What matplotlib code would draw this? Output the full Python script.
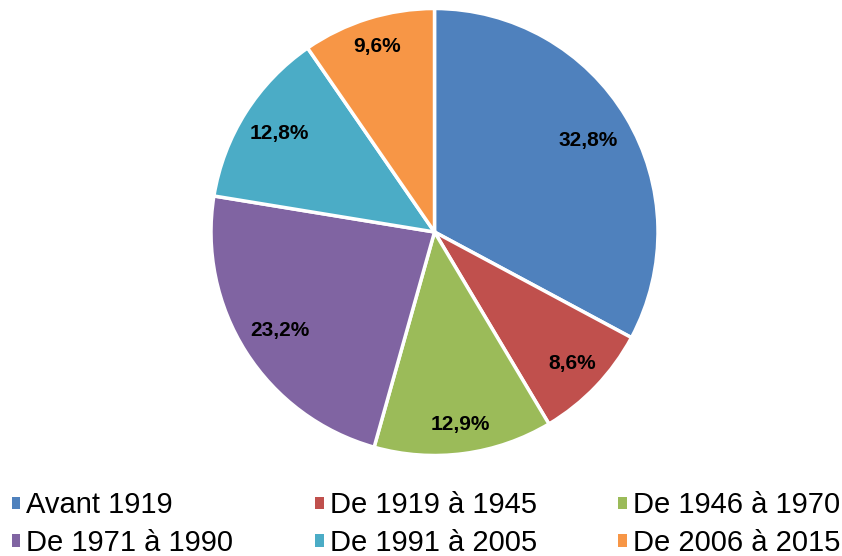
import numpy as np
import matplotlib.pyplot as plt

plt.rcParams['font.family'] = ['Liberation Sans', 'DejaVu Sans']

# Data
categories = ['Avant 1919', 'De 1919 à 1945', 'De 1946 à 1970',
              'De 1971 à 1990', 'De 1991 à 2005', 'De 2006 à 2015']
shares = [32.8, 8.6, 12.9, 23.2, 12.8, 9.6]
colors = ['#4F81BD', '#C0504D', '#9BBB59', '#8064A2', '#4BACC6', '#F79646']
# radial position of each percentage label (fraction of radius)
label_dist = [0.80, 0.85, 0.87, 0.82, 0.82, 0.87]

fig = plt.figure(figsize=(8.42, 5.56), dpi=100)
W, H = 842, 556
cx, cy, r = 434.5, 232, 223.5
ax = fig.add_axes([(cx - r) / W, (H - cy - r) / H, 2 * r / W, 2 * r / H])

wedges, texts, autotexts = ax.pie(
    shares, colors=colors, startangle=90, counterclock=False,
    radius=1, autopct=lambda p: '{:.1f}%'.format(p * sum(shares) / 100).replace('.', ','),
    wedgeprops=dict(edgecolor='white', linewidth=2.5),
    textprops=dict(fontsize=15, fontweight='bold', color='black'))
ax.set_xlim(-1, 1)
ax.set_ylim(-1, 1)
ax.set_aspect('equal')

# move labels to their own radial distance
for w, t, d in zip(wedges, autotexts, label_dist):
    ang = np.deg2rad((w.theta1 + w.theta2) / 2)
    t.set_position((d * np.cos(ang), d * np.sin(ang)))

# Legend below the pie, 3 columns x 2 rows
order = [0, 3, 1, 4, 2, 5]
leg = fig.legend([wedges[i] for i in order], [categories[i] for i in order],
                 ncol=3, loc='lower left', bbox_to_anchor=(0.0, -0.023),
                 frameon=False, fontsize=21, handlelength=0.3, handleheight=0.3,
                 handletextpad=0.2, columnspacing=2.8, labelspacing=0.33,
                 borderaxespad=0.0)
for h in leg.legend_handles:
    h.set_edgecolor('none')

fig.savefig('out.png', dpi=100)
